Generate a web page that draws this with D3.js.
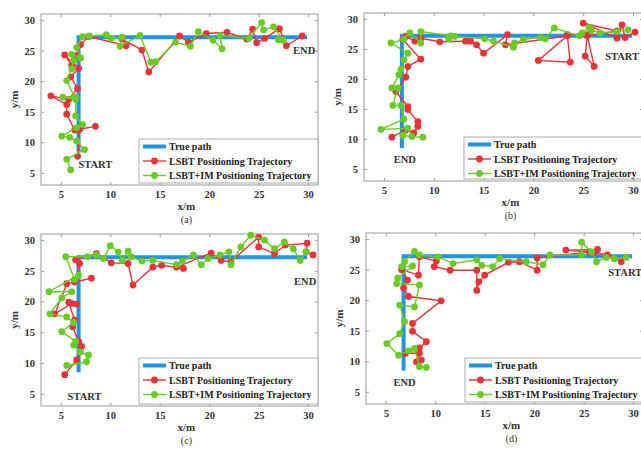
<!DOCTYPE html>
<html><head><meta charset="utf-8">
<script src="https://cdn.jsdelivr.net/npm/d3@7"></script>
<style>body{margin:0;background:#fff}svg{display:block}text{font-family:"Liberation Serif","DejaVu Serif",serif;font-weight:bold}</style>
</head><body>
<svg id="c" width="641" height="449"></svg>
<script>
const xTicks = [5, 10, 15, 20, 25, 30];
const yTicks = [5, 10, 15, 20, 25, 30];
const truePathX = [6.8, 6.8, 29.9];
const truePathY = [8.5, 27.2, 27.2];
const legendLabels = ["True path", "LSBT Positioning Trajectory", "LSBT+IM Positioning Trajectory"];
const panelCaptions = ["(a)", "(b)", "(c)", "(d)"];

const redA = [[6.7,7.7],[6.9,12.1],[8.5,12.6],[6.4,12.0],[5.6,14.6],[5.6,16.2],[4.0,17.6],[5.8,17.0],[6.7,18.8],[6.0,20.7],[6.8,22.1],[5.4,24.3],[6.1,22.6],[6.6,24.2],[7.0,26.0],[7.8,27.3],[11.6,25.8],[11.2,26.9],[13.2,25.1],[13.9,21.5],[17.0,27.4],[17.9,26.4],[19.7,27.8],[21.8,28.0],[23.8,26.9],[24.4,28.5],[24.8,26.3],[25.6,27.0],[27.1,28.6],[27.8,25.8],[29.4,27.4]];
const greenA = [[6.0,5.5],[5.6,7.2],[7.4,8.8],[6.6,10.2],[5.9,10.8],[5.1,11.0],[6.6,12.4],[7.2,12.9],[6.5,14.3],[6.5,17.4],[5.2,17.4],[6.5,17.0],[5.6,20.1],[6.1,22.0],[6.3,23.4],[6.1,24.4],[7.0,23.8],[6.6,25.5],[7.2,27.3],[7.9,27.4],[9.6,27.6],[10.1,27.0],[11.2,27.2],[11.0,25.7],[13.0,27.5],[14.1,23.1],[14.6,23.2],[16.6,26.4],[18.1,25.7],[18.9,28.1],[20.4,26.7],[21.3,25.3],[21.1,27.5],[24.0,27.0],[25.3,29.6],[25.5,28.4],[26.5,28.9],[27.5,26.7],[27.0,26.8]];

const redB = [[30.2,27.8],[29.2,26.9],[28.9,29.0],[28.4,26.8],[25.0,29.3],[28.4,28.0],[25.4,27.2],[25.2,23.8],[26.1,22.1],[25.4,27.4],[23.4,27.4],[23.7,22.8],[20.5,23.1],[23.4,27.2],[17.2,25.7],[17.4,27.4],[15.0,24.3],[14.3,25.7],[13.7,26.3],[13.2,26.3],[10.6,26.2],[8.7,26.8],[8.1,26.3],[7.2,27.1],[6.9,26.6],[8.7,23.3],[7.4,22.1],[7.2,20.3],[6.2,17.9],[7.4,15.4],[7.4,14.9],[8.4,12.9],[8.4,12.1],[8.0,11.0],[7.2,11.5],[5.8,10.3]];
const greenB = [[29.5,28.2],[28.4,27.9],[26.7,27.7],[25.8,28.1],[25.6,28.6],[24.9,27.7],[24.6,27.2],[22.1,28.5],[21.2,26.7],[20.7,26.9],[19.0,26.6],[18.1,26.0],[18.0,25.3],[16.0,26.3],[15.1,26.7],[12.1,27.1],[11.5,26.7],[11.7,27.2],[8.7,27.9],[8.7,26.0],[7.6,27.7],[7.0,26.6],[5.7,26.0],[7.4,24.3],[7.0,23.2],[6.7,21.6],[6.5,20.7],[5.8,18.5],[6.4,18.5],[5.9,15.6],[6.7,15.6],[7.0,13.3],[4.7,11.6],[7.4,11.8],[6.9,10.6],[7.8,10.4],[8.9,10.3]];

const redC = [[5.4,8.1],[6.6,10.5],[7.1,12.7],[6.8,13.5],[6.2,15.9],[6.4,17.0],[5.8,19.9],[6.6,19.6],[6.1,19.7],[4.4,18.0],[5.6,22.9],[8.1,23.8],[6.4,23.2],[6.9,26.2],[6.5,26.8],[8.6,27.8],[10.1,26.3],[11.8,26.2],[12.3,22.7],[14.3,25.6],[15.2,25.9],[17.4,25.4],[16.7,25.6],[20.2,27.9],[21.2,26.7],[22.2,26.5],[25.0,30.5],[25.0,28.9],[26.6,27.8],[27.7,29.2],[29.9,29.5],[29.8,28.1],[30.5,27.6]];
const greenC = [[5.6,9.6],[7.6,10.2],[7.8,11.3],[7.0,11.8],[6.3,12.9],[6.5,13.5],[5.1,15.1],[6.3,16.6],[5.6,17.5],[3.9,18.0],[5.1,20.6],[6.1,21.6],[3.8,21.6],[6.8,24.3],[6.4,23.6],[5.5,27.3],[7.7,27.3],[8.6,27.6],[9.3,27.0],[10.0,29.1],[10.8,28.1],[11.2,26.7],[11.8,28.2],[12.1,27.3],[13.2,26.6],[14.3,26.7],[16.7,26.0],[17.3,26.6],[18.4,27.6],[19.2,26.0],[19.9,27.0],[21.1,27.6],[22.0,28.1],[22.2,26.0],[23.2,28.9],[24.2,30.8],[25.6,30.0],[26.6,28.6],[27.6,29.7],[28.5,28.6],[29.2,26.7],[29.8,28.1]];

const redD = [[28.8,26.3],[27.4,27.4],[26.1,27.8],[26.4,28.3],[23.2,28.2],[25.6,27.9],[20.3,26.9],[20.3,24.9],[18.5,26.3],[17.4,26.2],[15.0,24.1],[14.4,23.0],[14.2,21.6],[14.2,24.9],[11.5,24.9],[9.9,25.5],[10.1,26.4],[8.4,27.1],[8.3,24.1],[6.6,25.0],[7.2,23.3],[6.8,22.0],[7.3,20.6],[10.6,19.9],[7.7,16.2],[7.7,14.9],[9.1,13.2],[8.4,12.2],[7.0,11.3],[8.4,11.3],[8.1,9.9],[8.6,10.2]];
const greenD = [[29.3,27.0],[28.1,26.8],[27.3,27.0],[26.3,26.3],[25.8,27.9],[24.8,29.5],[24.8,27.4],[21.6,27.4],[20.9,25.8],[19.2,26.3],[16.5,26.8],[15.8,25.5],[14.7,25.7],[14.2,26.6],[11.8,26.0],[10.3,27.1],[8.4,27.4],[7.9,28.0],[6.9,26.3],[6.6,25.5],[7.7,25.6],[6.2,23.6],[6.1,22.7],[8.4,22.5],[7.9,18.9],[6.4,19.2],[6.9,16.5],[6.4,14.5],[5.1,12.9],[6.3,11.0],[7.3,11.7],[7.9,12.1],[8.4,9.1],[9.1,9.0]];

const startEnd = [
  {start:[8.5,5.8], end:[29.6,24.5]},
  {start:[28.9,23.2], end:[7.1,6.0]},
  {start:[7.4,4.0], end:[29.7,22.7]},
  {start:[29.2,24.0], end:[6.9,5.95]}
];

const COL_BLUE = "#1f95e6", COL_RED = "#e8333a", COL_GREEN = "#6acb26";

const panels = [
  {left:41, top:14, w:277, h:171, red:redA, green:greenA, legX:139, legY:139},
  {left:364, top:13, w:279, h:168, red:redB, green:greenB, legX:464, legY:137},
  {left:41, top:234, w:277, h:172, red:redC, green:greenC, legX:139, legY:358},
  {left:366, top:233, w:277, h:171, red:redD, green:greenD, legX:465, legY:358}
];

const svg = d3.select("#c");

panels.forEach((p, i) => {
  const x = d3.scaleLinear().domain([3, 31]).range([p.left, p.left + p.w]);
  const y = d3.scaleLinear().domain([3, 31]).range([p.top + p.h, p.top]);
  const g = svg.append("g");

  g.append("rect").attr("x", p.left).attr("y", p.top).attr("width", p.w).attr("height", p.h)
    .attr("fill", "none").attr("stroke", "#9a9a9a").attr("stroke-width", 1);

  const xa = g.append("g").attr("transform", `translate(0,${p.top + p.h})`)
    .call(d3.axisBottom(x).tickValues(xTicks).tickSize(-3).tickPadding(6));
  const xt = g.append("g").attr("transform", `translate(0,${p.top})`)
    .call(d3.axisTop(x).tickValues(xTicks).tickSize(-3).tickFormat(""));
  const ya = g.append("g").attr("transform", `translate(${p.left},0)`)
    .call(d3.axisLeft(y).tickValues(yTicks).tickSize(-3).tickPadding(6));
  const yr = g.append("g").attr("transform", `translate(${p.left + p.w},0)`)
    .call(d3.axisRight(y).tickValues(yTicks).tickSize(-3).tickFormat(""));
  [xa, xt, ya, yr].forEach(a => {
    a.select(".domain").remove();
    a.selectAll(".tick line").attr("stroke", "#9a9a9a");
    a.selectAll("text").attr("fill", "#333").style("font-size", "10.5px").style("font-weight", "bold")
      .style("font-family", "'Liberation Serif', serif");
  });

  const line = d3.line().x(d => x(d[0])).y(d => y(d[1]));

  g.append("path").datum(truePathX.map((v, k) => [v, truePathY[k]])).attr("d", line)
    .attr("fill", "none").attr("stroke", COL_BLUE).attr("stroke-width", 4);

  g.append("path").datum(p.red).attr("d", line).attr("fill", "none").attr("stroke", COL_RED).attr("stroke-width", 1.4);
  g.selectAll(".rd").data(p.red).join("circle").attr("cx", d => x(d[0])).attr("cy", d => y(d[1]))
    .attr("r", 3.4).attr("fill", COL_RED);
  g.append("path").datum(p.green).attr("d", line).attr("fill", "none").attr("stroke", COL_GREEN).attr("stroke-width", 1.4);
  g.selectAll(".gr").data(p.green).join("circle").attr("cx", d => x(d[0])).attr("cy", d => y(d[1]))
    .attr("r", 3.4).attr("fill", COL_GREEN);

  const se = startEnd[i];
  g.append("text").attr("x", x(se.start[0])).attr("y", y(se.start[1])).attr("text-anchor", "middle")
    .attr("fill", "#333").style("font-size", "10.5px").text("START");
  g.append("text").attr("x", x(se.end[0])).attr("y", y(se.end[1])).attr("text-anchor", "middle")
    .attr("fill", "#333").style("font-size", "10.5px").text("END");

  const lw = p.left + p.w - p.legX, lh = p.top + p.h - p.legY - 2;
  const lg = g.append("g").attr("transform", `translate(${p.legX},${p.legY})`);
  lg.append("rect").attr("width", lw).attr("height", lh).attr("fill", "#fff").attr("stroke", "#9a9a9a").attr("stroke-width", 0.8);
  const cols = [COL_BLUE, COL_RED, COL_GREEN];
  legendLabels.forEach((lab, k) => {
    const yy = 7.5 + k * 14.5;
    lg.append("line").attr("x1", 4).attr("x2", 27).attr("y1", yy).attr("y2", yy)
      .attr("stroke", cols[k]).attr("stroke-width", k === 0 ? 4 : 1.4);
    if (k > 0) lg.append("circle").attr("cx", 15.5).attr("cy", yy).attr("r", 3.4).attr("fill", cols[k]);
    lg.append("text").attr("x", 30).attr("y", yy + 3.5).attr("fill", "#222").style("font-size", "10px").text(lab);
  });

  g.append("text").attr("x", x(17.7)).attr("y", p.top + p.h + 25).attr("text-anchor", "middle")
    .attr("fill", "#333").style("font-size", "11px").text("x/m");
  g.append("text").attr("transform", `translate(${p.left - 23},${y(17)}) rotate(-90)`).attr("text-anchor", "middle")
    .attr("fill", "#333").style("font-size", "11px").text("y/m");
  g.append("text").attr("x", x(17.7)).attr("y", p.top + p.h + 38).attr("text-anchor", "middle")
    .attr("fill", "#333").style("font-size", "10px").style("font-weight", "normal").text(panelCaptions[i]);
});
</script>
</body></html>
